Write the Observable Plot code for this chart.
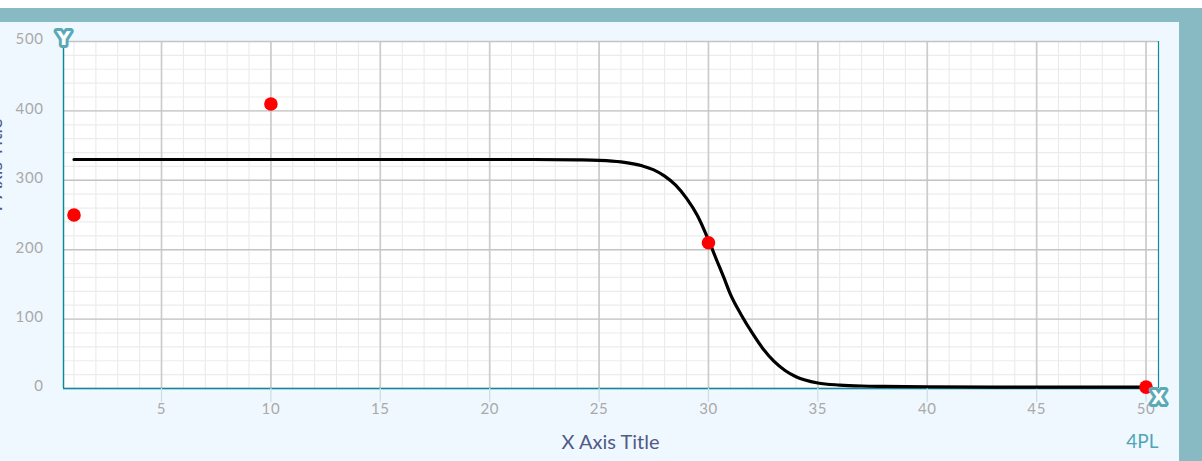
<!DOCTYPE html>
<html>
<head>
<meta charset="utf-8">
<script src="https://cdn.jsdelivr.net/npm/d3@7"></script>
<script src="https://cdn.jsdelivr.net/npm/@observablehq/plot@0.6"></script>
<style>
  html, body { margin: 0; padding: 0; background: #fff; overflow: hidden; }
  #stage { position: relative; width: 1202px; height: 461px; overflow: hidden; }
  #band { position: absolute; left: 0; top: 8px; width: 1202px; height: 453px; background: #87bac3; }
  #panel { position: absolute; left: 0; top: 22px; width: 1179px; height: 439px; background: #f0f8ff; }
  #chart { position: absolute; left: 0; top: 0; }
  #chart svg { display: block; }
  [aria-label="x-axis tick label"], [aria-label="y-axis tick label"] { letter-spacing: 0.6px; }
</style>
</head>
<body>
<div id="stage">
  <div id="band"></div>
  <div id="panel"></div>
  <div id="chart"></div>
</div>
<script>
const xDomain = [0.52, 50.57];
const yDomain = [0, 500];
const xMajor = [5, 10, 15, 20, 25, 30, 35, 40, 45, 50];
const yMajor = [0, 100, 200, 300, 400, 500];
const xMinor = d3.range(1, 51);
const yMinor = d3.range(20, 500, 20);

const pointX = [1, 10, 30, 50];
const pointY = [250, 410, 210, 2];

const curveX = [1, 5, 10, 15, 20, 22, 24, 25, 26, 27, 27.5, 28, 28.5, 29, 29.5, 30, 30.4, 30.7, 31, 31.5, 32, 32.5, 33, 33.5, 34, 35, 36, 37, 38, 40, 45, 50];
const curveY = [330, 330, 330, 330, 330, 330, 329.5, 328.8, 326.5, 320.5, 315, 306, 293, 274, 249, 214, 183, 160, 136, 106, 80, 57, 39, 26, 17, 8, 5, 3.6, 3, 2.5, 2, 2];

const xTitle = "X Axis Title";
const yTitle = "Y Axis Title";
const modelLabel = "4PL";

const points = pointX.map((x, i) => ({x, y: pointY[i]}));
const curve = curveX.map((x, i) => ({x, y: curveY[i]}));
const [xMin, xMax] = xDomain;

const teal = "#0f8a9c";
const glyph = {fill: "white", stroke: "#5aa9b7", strokeWidth: 6, strokeLinejoin: "round", paintOrder: "stroke", fontWeight: "bold", fontSize: 19, fontFamily: "DejaVu Sans"};

const plot = Plot.plot({
  width: 1202,
  height: 461,
  marginLeft: 63,
  marginRight: 44,
  marginTop: 41,
  marginBottom: 73,
  style: {background: "transparent", fontFamily: "Lato", fontSize: "15px"},
  x: {domain: xDomain},
  y: {domain: yDomain},
  marks: [
    Plot.frame({fill: "white", stroke: "none"}),
    Plot.ruleX(xMinor, {stroke: "#e8e8e8", strokeWidth: 1}),
    Plot.ruleY(yMinor, {stroke: "#ececec", strokeWidth: 1.2}),
    Plot.ruleX(xMajor, {stroke: "#cccccc", strokeWidth: 1.7}),
    Plot.ruleY(yMajor, {stroke: "#c4c4c4", strokeWidth: 1.4}),
    Plot.ruleX([xMin], {stroke: teal, strokeWidth: 1.5}),
    Plot.ruleX([xMax], {stroke: teal, strokeWidth: 1.2}),
    Plot.ruleY([0], {stroke: teal, strokeWidth: 1.5}),
    Plot.axisX({ticks: xMajor, tickSize: 14, tickPadding: 1, stroke: "#cfdde9", fill: "#a9a9a9", strokeWidth: 1.3, label: null, tickFormat: d => d}),
    Plot.axisY({ticks: yMajor, tickSize: 0, tickPadding: 20, dy: -2, fill: "#a9a9a9", label: null, tickFormat: d => d}),
    Plot.line(curve, {x: "x", y: "y", stroke: "black", strokeWidth: 3.2, curve: "monotone-x"}),
    Plot.dot(points, {x: "x", y: "y", r: 6.8, fill: "#ff0000", stroke: "none"}),
    Plot.text([yTitle], {frameAnchor: "left", rotate: -90, dx: -68, fill: "#4f5b86", fontSize: 20}),
    Plot.text([xTitle], {frameAnchor: "bottom", dy: 60, dx: -0.5, fill: "#4f5b86", fontSize: 20}),
    Plot.text([modelLabel], {frameAnchor: "bottom-right", textAnchor: "end", dy: 59, fill: "#4da6b8", fontSize: 19}),
    Plot.text(["Y"], {x: [xMin], y: [500], dy: -3, ...glyph}),
    Plot.text(["X"], {x: [xMax], y: [0], dy: 9, ...glyph})
  ]
});
document.getElementById("chart").appendChild(plot);
</script>
</body>
</html>
